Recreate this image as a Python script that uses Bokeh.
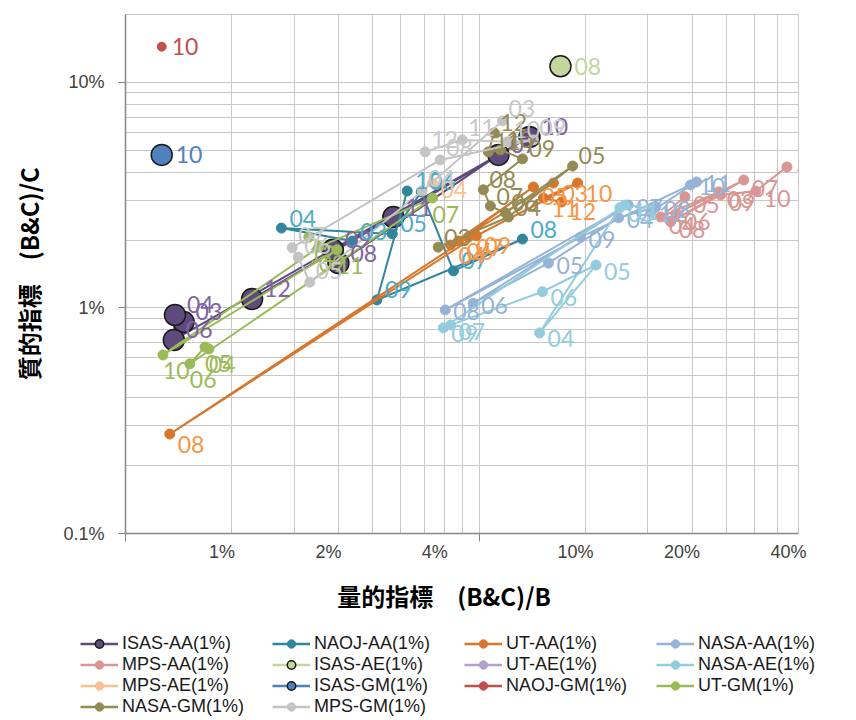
from bokeh.plotting import figure
from bokeh.layouts import column
from bokeh.models import (Range1d, FixedTicker, CustomJSTickFormatter, Legend,
                          LegendItem, ColumnDataSource)
from bokeh.core.properties import value
from bokeh.embed import file_html
from bokeh.resources import INLINE

# ---------------- data (percent) ----------------
series_names = ["ISAS-AA(1%)", "NAOJ-AA(1%)", "UT-AA(1%)", "NASA-AA(1%)",
                "MPS-AA(1%)", "ISAS-AE(1%)", "UT-AE(1%)", "NASA-AE(1%)",
                "MPS-AE(1%)", "ISAS-GM(1%)", "NAOJ-GM(1%)", "UT-GM(1%)",
                "NASA-GM(1%)", "MPS-GM(1%)"]

isas_aa_month = ["03", "04", "06", "07", "08", "09", "10", "11", "12"]
isas_aa_x = [0.73, 0.69, 0.685, 5.67, 2.00, 1.93, 6.94, 2.86, 1.14]
isas_aa_y = [0.867, 0.931, 0.721, 4.77, 1.58, 1.81, 5.73, 2.53, 1.096]

naoj_aa_month = ["03", "04", "05", "06", "07", "08", "09", "10"]
naoj_aa_x = [2.19, 1.38, 2.84, 3.43, 4.23, 6.63, 2.57, 3.13]
naoj_aa_y = [1.98, 2.26, 2.13, 3.27, 1.46, 2.02, 1.085, 3.30]

ut_aa_month = ["03", "04", "05", "06", "07", "08", "09", "10", "11", "12"]
ut_aa_x = [8.11, 4.15, 7.12, 4.37, 4.66, 0.667, 4.91, 9.49, 7.60, 8.55]
ut_aa_y = [3.58, 1.90, 3.44, 1.98, 2.06, 0.276, 2.09, 3.58, 3.07, 2.95]

nasa_aa_month = ["03", "04", "05", "06", "07", "08", "09", "10", "11", "12"]
nasa_aa_x = [15.8, 12.4, 7.85, 4.81, 13.2, 4.01, 9.68, 19.8, 20.6, 15.3]
nasa_aa_y = [2.80, 2.51, 1.58, 1.05, 2.86, 0.98, 2.06, 3.51, 3.62, 2.67]

mps_aa_month = ["03", "04", "05", "06", "07", "08", "09", "10", "11"]
mps_aa_x = [23.8, 16.3, 19.1, 18.0, 28.0, 17.4, 24.1, 30.3, 37.1]
mps_aa_y = [3.27, 2.53, 3.11, 2.61, 3.69, 2.41, 3.17, 3.30, 4.22]

isas_ae_month = ["08"]
isas_ae_x = [8.49]
isas_ae_y = [11.8]

ut_ae_month = []
ut_ae_x = []
ut_ae_y = []

nasa_ae_month = ["03", "04", "05", "06", "07", "09", "11"]
nasa_ae_x = [12.5, 7.41, 10.7, 7.55, 4.15, 3.96, 12.9]
nasa_ae_y = [2.78, 0.775, 1.55, 1.18, 0.84, 0.815, 2.86]

mps_ae_month = ["04"]
mps_ae_x = [3.69]
mps_ae_y = [3.58]

isas_gm_month = ["10"]
isas_gm_x = [0.633]
isas_gm_y = [4.77]

naoj_gm_month = ["10"]
naoj_gm_x = [0.633]
naoj_gm_y = [14.4]

ut_gm_month = ["04", "05", "06", "07", "09", "10", "11", "12"]
ut_gm_x = [0.861, 0.839, 0.760, 3.69, 1.76, 0.638, 1.98, 1.65]
ut_gm_y = [0.658, 0.671, 0.565, 3.07, 1.86, 0.619, 1.81, 2.06]

nasa_gm_month = ["03", "04", "05", "06", "07", "08", "09", "10", "11", "12"]
nasa_gm_x = [3.83, 6.05, 9.19, 5.93, 5.38, 5.14, 6.63, 5.74, 5.31, 5.52]
nasa_gm_y = [1.86, 2.53, 4.26, 2.64, 2.83, 3.34, 4.58, 5.02, 4.92, 5.97]

mps_gm_month = ["03", "04", "05", "06", "07", "08", "09", "10", "11", "12"]
mps_gm_x = [5.82, 3.45, 1.66, 1.54, 1.48, 3.88, 7.12, 6.01, 4.48, 3.52]
mps_gm_y = [6.75, 3.30, 1.30, 1.68, 1.85, 4.53, 5.56, 5.45, 5.56, 4.92]

x_tick_values = [1, 2, 4, 10, 20, 40]
y_tick_values = [0.1, 1, 10]
x_grid_values = [0.5, 1, 1.5, 2, 2.5, 3, 3.5, 4, 4.5, 5, 10, 15, 20, 25, 30, 35, 40]
y_grid_values = [0.2, 0.3, 0.4, 0.5, 0.6, 0.7, 0.8, 0.9, 1, 2, 3, 4, 5, 6, 7, 8, 9, 10, 20]

all_data = [
    (isas_aa_month, isas_aa_x, isas_aa_y),
    (naoj_aa_month, naoj_aa_x, naoj_aa_y),
    (ut_aa_month, ut_aa_x, ut_aa_y),
    (nasa_aa_month, nasa_aa_x, nasa_aa_y),
    (mps_aa_month, mps_aa_x, mps_aa_y),
    (isas_ae_month, isas_ae_x, isas_ae_y),
    (ut_ae_month, ut_ae_x, ut_ae_y),
    (nasa_ae_month, nasa_ae_x, nasa_ae_y),
    (mps_ae_month, mps_ae_x, mps_ae_y),
    (isas_gm_month, isas_gm_x, isas_gm_y),
    (naoj_gm_month, naoj_gm_x, naoj_gm_y),
    (ut_gm_month, ut_gm_x, ut_gm_y),
    (nasa_gm_month, nasa_gm_x, nasa_gm_y),
    (mps_gm_month, mps_gm_x, mps_gm_y),
]

# ---------------- styles ----------------
# (marker/line colour, label colour, marker size, outline colour, label dx, label dy)
styles = [
    ("#5F4A7D", "#8064A2", 21, "#1A1A1A", 12, -10),
    ("#31859C", "#4BACC6", 10, None, 8, -10),
    ("#D8772B", "#F79646", 10, None, 8, 10),
    ("#95B3D7", "#95B3D7", 10, None, 8, 2),
    ("#D99694", "#D99694", 10, None, 8, 8),
    ("#C3D69B", "#C3D69B", 21, "#1A1A1A", 14, 0),
    ("#B3A2C7", "#B3A2C7", 10, None, 8, 0),
    ("#93CDDD", "#93CDDD", 10, None, 8, 6),
    ("#FAC090", "#FAC090", 10, None, 8, 6),
    ("#4F81BD", "#4F81BD", 21, "#1A1A1A", 14, 0),
    ("#C0504D", "#C0504D", 9, None, 10, 0),
    ("#9BBB59", "#9BBB59", 10, None, 0, 16),
    ("#948A54", "#948A54", 10, None, 6, -10),
    ("#C4C4C4", "#C8C8C8", 10, None, 6, -12),
]

p = figure(width=848, height=624, x_axis_type="log", y_axis_type="log",
           x_range=Range1d(0.5, 40), y_range=Range1d(0.1, 20),
           output_backend="svg", toolbar_location=None,
           min_border_left=125, min_border_right=50, min_border_top=14,
           min_border_bottom=91)
p.frame_align = False
p.background_fill_color = "white"
p.border_fill_color = "white"
p.outline_line_color = "#C8C8C8"

# grids
p.xgrid.ticker = FixedTicker(ticks=x_grid_values)
p.ygrid.ticker = FixedTicker(ticks=y_grid_values)
for g in (p.xgrid, p.ygrid):
    g.grid_line_color = "#C8C8C8"
    g.grid_line_width = 1

p.xaxis.ticker = FixedTicker(ticks=x_tick_values, minor_ticks=[0.5, 5])
p.yaxis.ticker = FixedTicker(ticks=y_tick_values, minor_ticks=[])
p.xaxis.formatter = CustomJSTickFormatter(code="return tick + '%\u2007\u2007';")
p.yaxis.formatter = CustomJSTickFormatter(code="return tick + '%';")
for ax in (p.xaxis, p.yaxis):
    ax.axis_line_color = "#868686"
    ax.axis_line_width = 1.5
    ax.major_tick_line_color = "#868686"
    ax.minor_tick_line_color = "#868686"
    ax.major_label_text_font = "Liberation Sans Narrow, Liberation Sans"
    ax.major_label_text_font_size = "18px"
    ax.major_label_text_color = "#404040"
    ax.axis_label_text_font = "Noto Sans CJK JP"
    ax.axis_label_text_font_style = "bold"
    ax.axis_label_text_font_size = "24px"
    ax.axis_label_text_color = "#000000"
p.xaxis.major_tick_out = 0
p.xaxis.major_tick_in = 0
p.xaxis.minor_tick_out = 8
p.xaxis.minor_tick_in = 0
p.xaxis.major_label_standoff = 0
p.xaxis.axis_label = "量的指標\u3000(B&C)/B\u3000\u2002"
p.xaxis.axis_label_standoff = 13
p.yaxis.major_tick_out = 7
p.yaxis.major_tick_in = 0
p.yaxis.minor_tick_out = 0
p.yaxis.minor_tick_in = 0
p.yaxis.major_label_standoff = 14
p.yaxis.axis_label = "質的指標\u3000(B&C)/C"
p.yaxis.axis_label_standoff = 14

# legend-only figure below the chart
lf = figure(width=848, height=96, x_range=Range1d(0, 1), y_range=Range1d(0, 1),
            output_backend="svg", toolbar_location=None, min_border=0)
lf.frame_align = False
lf.axis.visible = False
lf.grid.visible = False
lf.outline_line_color = None
lf.background_fill_color = "white"
lf.border_fill_color = "white"

items = []
label_sources = []
for name, (months, xs, ys), st in zip(series_names, all_data, styles):
    color, lcolor, size, outline, dx, dy = st
    src = ColumnDataSource(dict(x=list(xs), y=list(ys), m=list(months)))
    mkw = dict(size=size, fill_color=color,
               line_color=outline if outline else color,
               line_width=1.5 if outline else 1)
    p.line("x", "y", source=src, line_color=color, line_width=2)
    p.scatter("x", "y", source=src, **mkw)
    label_sources.append((src, lcolor, dx, dy))
    # off-range placeholder so the legend glyph gets drawn
    esrc = ColumnDataSource(dict(x=[5], y=[5]))
    lr = lf.line("x", "y", source=esrc, line_color=color, line_width=2.5)
    sr = lf.scatter("x", "y", source=esrc, **mkw)
    items.append(LegendItem(label=name, renderers=[lr, sr]))

for src, lcolor, dx, dy in label_sources:
    p.text("x", "y", text="m", source=src, x_offset=dx, y_offset=dy,
           text_font=value("Lato"), text_font_size="23px", text_color=lcolor,
           text_baseline="middle", text_align="left")

legend = Legend(items=items, orientation="horizontal", ncols=4,
                location=(80, 3), padding=0, margin=0, spacing=0,
                glyph_width=38, glyph_height=21, label_width=150,
                label_height=21, label_standoff=4,
                border_line_color=None, background_fill_alpha=0)
legend.label_text_font = "Liberation Sans Narrow, Liberation Sans"
legend.label_text_font_size = "18px"
legend.label_text_color = "#1A1A1A"
lf.add_layout(legend, "center")

layout = column(p, lf, spacing=0)
open("out.html", "w").write(file_html(layout, INLINE))
